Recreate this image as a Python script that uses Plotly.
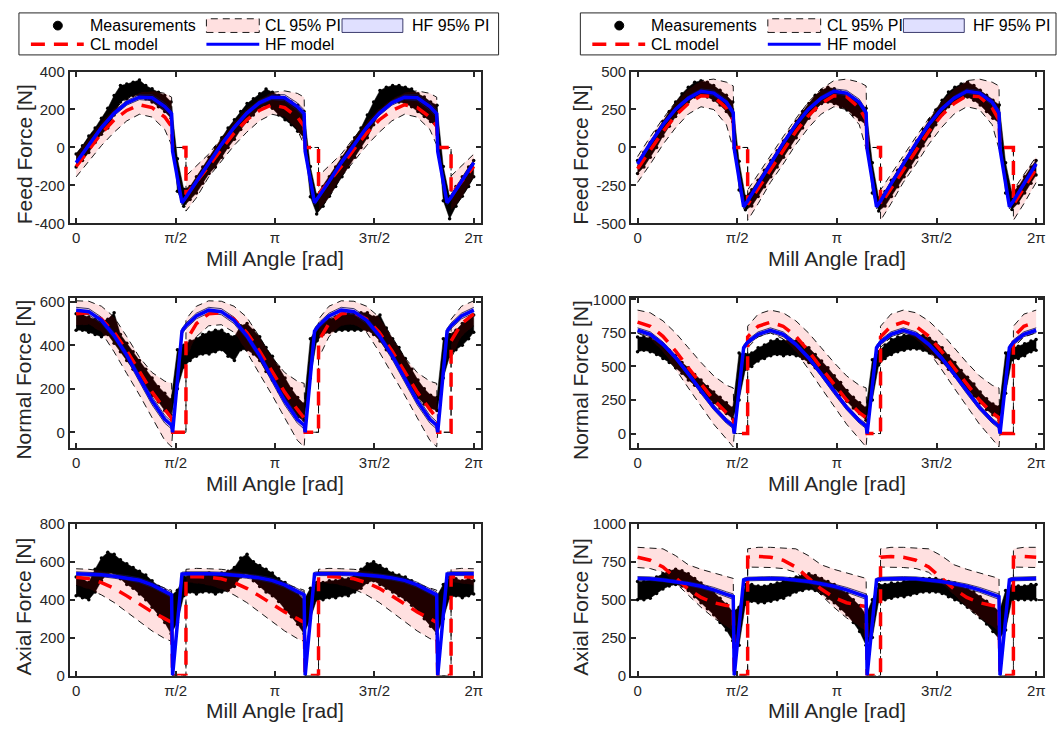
import numpy as np
import plotly.graph_objects as go

W, H = 1060, 735

# ---------------- shared angle data ----------------
# phase (rad) measured from each tooth-exit angle, one tooth pass of the models
phase = [0.016, 0.164, 0.227, 0.227, 0.392, 0.586, 0.786, 0.986, 1.186, 1.386, 1.586, 1.786, 1.986, 2.094]
# tooth-exit angles (rad)
pass_start = [-0.586, 1.508, 3.602, 5.696]

meas_x = [0.0, 0.1, 0.2, 0.3, 0.4, 0.5, 0.6, 0.7, 0.8, 0.9, 1.0, 1.1, 1.2, 1.3, 1.4, 1.5,
          1.6, 1.7, 1.8, 1.9, 2.0, 2.1, 2.2, 2.3, 2.4, 2.5, 2.6, 2.7, 2.8, 2.9, 3.0, 3.1, 3.2, 3.3, 3.4, 3.5, 3.6,
          3.7, 3.8, 3.9, 4.0, 4.1, 4.2, 4.3, 4.4, 4.5, 4.6, 4.7, 4.8, 4.9, 5.0, 5.1, 5.2, 5.3, 5.4, 5.5, 5.6, 5.7,
          5.8, 5.9, 6.0, 6.1, 6.2, 6.28]

x_tick_vals = [0, np.pi / 2, np.pi, 3 * np.pi / 2, 2 * np.pi]
x_tick_text = ["0", "π/2", "π", "3π/2", "2π"]

# ---------------- Feed force, left ----------------
tl_meas_lo = [-103, -69, -26, 26, 69, 103, 171, 240, 257, 274, 274, 257, 240, 214, 189, 154,
              -230, -310, -274, -240, -189, -137, -103, -51, 0, 43, 94, 137, 171, 206, 223, 206, 171, 146, 120, 86, 51,
              -260, -350, -309, -257, -206, -154, -103, -51, 0, 51, 120, 189, 223, 240, 240, 231, 214, 189, 163, 137, 103,
              -280, -375, -309, -257, -206, -154]
tl_meas_hi = [-34, 9, 60, 103, 154, 206, 274, 326, 334, 343, 355, 326, 309, 291, 274, 240,
              -60, -220, -206, -154, -103, -51, 0, 51, 103, 146, 189, 231, 257, 283, 308, 291, 274, 257, 240, 223, 189,
              -100, -250, -206, -154, -103, -51, 0, 51, 103, 171, 240, 300, 317, 326, 326, 317, 308, 283, 266, 240, 223,
              -100, -260, -206, -154, -103, -69]
tl_hf = [-20, -291, -262, -262, -180, -80, 15, 105, 180, 235, 265, 262, 215, 178]
tl_hf_lo = [-20, -303, -274, -274, -192, -92, 3, 93, 168, 223, 252, 246, 195, 158]
tl_hf_hi = [-20, -279, -250, -250, -168, -68, 27, 117, 192, 247, 278, 278, 235, 198]
tl_cl = [0, 0, 0, -248, -180, -100, -10, 75, 145, 195, 225, 210, 160, 110]
tl_cl_lo = [0, 0, 0, -335, -265, -155, -70, 10, 80, 140, 175, 160, 95, 10]
tl_cl_hi = [0, 0, 0, -150, -95, -35, 50, 135, 205, 255, 290, 298, 285, 265]

# ---------------- Feed force, right ----------------
tr_meas_lo = [-172, -129, -64, 0, 75, 139, 204, 258, 300, 333, 343, 333, 311, 279, 236, 170,
              -280, -410, -386, -322, -258, -193, -129, -64, 0, 64, 129, 193, 247, 290, 300, 290, 268, 247, 215, 182, 150,
              -300, -418, -386, -322, -258, -193, -129, -64, 11, 75, 150, 215, 268, 300, 322, 333, 311, 279, 236, 193, 161,
              -300, -408, -365, -300, -236, -182]
tr_meas_hi = [-86, -32, 32, 107, 172, 236, 300, 354, 397, 429, 440, 429, 408, 376, 343, 300,
              -90, -322, -279, -215, -150, -86, -21, 43, 107, 172, 236, 290, 343, 376, 397, 386, 365, 343, 322, 290, 258,
              -100, -333, -290, -215, -150, -86, -21, 43, 118, 182, 247, 311, 365, 397, 418, 429, 408, 376, 343, 311, 279,
              -100, -300, -258, -193, -129, -86]
tr_hf = [-10, -390, -352, -352, -240, -108, 27, 150, 252, 325, 370, 358, 298, 228]
tr_hf_lo = [-10, -404, -366, -366, -254, -122, 13, 136, 238, 311, 354, 340, 278, 208]
tr_hf_hi = [-10, -376, -338, -338, -226, -94, 41, 164, 266, 339, 386, 376, 318, 248]
tr_cl = [0, 0, 0, -375, -270, -140, -15, 105, 210, 290, 340, 335, 260, 180]
tr_cl_lo = [0, 0, 0, -480, -370, -230, -110, 20, 130, 220, 268, 250, 150, -10]
tr_cl_hi = [0, 0, 0, -280, -175, -60, 70, 190, 300, 385, 440, 450, 430, 405]

# ---------------- Normal force, left ----------------
ml_meas_lo = [470, 470, 460, 450, 440, 450, 410, 370, 330, 290, 250, 210, 170, 140, 100, 80,
              200, 300, 330, 350, 360, 360, 370, 380, 350, 330, 380, 380, 360, 330, 280, 240, 190, 150, 110, 70, 55,
              250, 420, 450, 460, 465, 470, 470, 470, 470, 470, 450, 420, 380, 340, 300, 250, 200, 160, 130, 110, 100,
              250, 350, 380, 400, 430, 460]
ml_meas_hi = [545, 540, 530, 520, 510, 520, 550, 450, 410, 370, 330, 290, 250, 210, 180, 150,
              380, 400, 420, 430, 450, 460, 470, 470, 450, 440, 490, 500, 470, 440, 390, 350, 300, 250, 200, 160, 130,
              430, 480, 510, 520, 530, 540, 545, 550, 550, 550, 530, 540, 480, 430, 390, 340, 290, 240, 200, 170, 160,
              430, 450, 470, 500, 520, 540]
ml_hf = [0, 465, 490, 490, 535, 562, 555, 515, 445, 355, 250, 145, 60, 32]
ml_hf_lo = [0, 452, 477, 477, 522, 549, 541, 500, 429, 338, 232, 126, 42, 15]
ml_hf_hi = [0, 478, 503, 503, 548, 575, 569, 530, 461, 372, 268, 164, 78, 49]
ml_cl = [0, 0, 0, 420, 500, 545, 550, 520, 460, 375, 280, 185, 105, 65]
ml_cl_lo = [0, 0, 0, 340, 440, 490, 495, 460, 370, 270, 172, 67, -37, -67]
ml_cl_hi = [0, 0, 0, 520, 580, 605, 603, 580, 530, 440, 345, 275, 235, 225]

# ---------------- Normal force, right ----------------
mr_meas_lo = [610, 620, 610, 590, 560, 530, 490, 450, 400, 360, 310, 270, 230, 190, 150, 110,
              250, 480, 500, 540, 560, 580, 590, 580, 590, 580, 560, 530, 490, 450, 400, 340, 290, 240, 190, 150, 100,
              250, 510, 560, 590, 610, 620, 630, 630, 620, 600, 570, 530, 480, 430, 380, 330, 280, 230, 180, 140, 100,
              300, 550, 560, 580, 610, 620]
mr_meas_hi = [720, 720, 710, 690, 660, 620, 580, 530, 490, 440, 400, 350, 310, 270, 230, 190,
              600, 590, 600, 640, 660, 690, 700, 690, 700, 690, 670, 640, 590, 540, 490, 430, 380, 320, 270, 230, 190,
              550, 610, 660, 700, 720, 730, 740, 740, 730, 710, 680, 640, 580, 530, 470, 420, 370, 310, 260, 220, 200,
              600, 640, 650, 670, 690, 700]
mr_hf = [0, 640, 680, 680, 740, 770, 740, 665, 565, 445, 315, 195, 95, 55]
mr_hf_lo = [0, 622, 662, 662, 722, 752, 722, 647, 547, 427, 297, 177, 77, 37]
mr_hf_hi = [0, 658, 698, 698, 758, 788, 758, 683, 583, 463, 333, 213, 113, 73]
mr_cl = [0, 0, 0, 720, 800, 830, 800, 725, 615, 490, 365, 250, 155, 118]
mr_cl_lo = [0, 0, 0, 640, 720, 750, 705, 610, 480, 340, 200, 70, -40, -100]
mr_cl_hi = [0, 0, 0, 800, 890, 920, 900, 840, 750, 640, 530, 430, 360, 340]

# ---------------- Axial force, left ----------------
bl_meas_lo = [420, 410, 400, 440, 500, 540, 540, 510, 480, 460, 430, 400, 360, 320, 280, 220,
              280, 420, 440, 430, 440, 440, 430, 440, 450, 470, 520, 540, 500, 470, 440, 420, 390, 350, 310, 270, 220,
              300, 400, 400, 410, 410, 420, 420, 440, 460, 490, 500, 480, 460, 440, 420, 400, 370, 340, 300, 260, 220,
              300, 410, 420, 410, 420, 430]
bl_meas_hi = [520, 510, 490, 560, 620, 650, 640, 610, 590, 570, 550, 530, 500, 470, 450, 420,
              450, 520, 530, 520, 530, 540, 530, 540, 550, 570, 620, 640, 600, 580, 560, 540, 510, 490, 460, 430, 400,
              460, 490, 490, 500, 500, 510, 510, 530, 560, 590, 600, 580, 560, 540, 530, 520, 500, 480, 460, 440, 420,
              480, 520, 510, 500, 510, 500]
bl_hf = [0, 535, 537, 537, 538, 537, 535, 531, 524, 515, 502, 478, 445, 425]
bl_hf_lo = [0, 525, 527, 527, 528, 527, 525, 521, 513, 503, 489, 464, 430, 410]
bl_hf_hi = [0, 545, 547, 547, 548, 547, 545, 541, 535, 527, 515, 492, 460, 440]
bl_cl = [0, 0, 0, 520, 522, 518, 510, 490, 460, 420, 375, 335, 300, 280]
bl_cl_lo = [0, 0, 0, 490, 485, 475, 455, 425, 385, 335, 285, 235, 195, 180]
bl_cl_hi = [0, 0, 0, 560, 565, 563, 560, 552, 540, 525, 505, 485, 462, 450]

# ---------------- Axial force, right ----------------
br_meas_lo = [500, 500, 510, 540, 570, 590, 600, 590, 560, 520, 480, 440, 400, 350, 300, 230,
              200, 470, 490, 480, 480, 490, 500, 510, 530, 550, 560, 570, 560, 540, 510, 480, 440, 400, 350, 290, 200,
              250, 490, 500, 510, 520, 520, 530, 540, 550, 550, 550, 540, 520, 500, 480, 450, 420, 380, 340, 290, 240,
              300, 500, 500, 500, 500, 500]
br_meas_hi = [620, 620, 630, 650, 670, 690, 700, 690, 670, 640, 610, 580, 550, 510, 470, 420,
              450, 600, 600, 590, 590, 600, 610, 620, 640, 650, 660, 670, 660, 640, 620, 600, 570, 540, 500, 460, 400,
              500, 600, 600, 610, 610, 620, 630, 630, 640, 640, 640, 630, 620, 610, 590, 570, 550, 520, 490, 460, 420,
              560, 590, 590, 590, 600, 600]
br_hf = [0, 630, 636, 636, 640, 640, 638, 630, 620, 605, 588, 565, 535, 520]
br_hf_lo = [0, 618, 624, 624, 628, 628, 626, 618, 607, 591, 573, 549, 518, 502]
br_hf_hi = [0, 642, 648, 648, 652, 652, 650, 642, 633, 619, 603, 581, 552, 538]
br_cl = [0, 0, 0, 780, 785, 780, 760, 715, 645, 570, 515, 480, 462, 455]
br_cl_lo = [0, 0, 0, 715, 715, 712, 705, 680, 610, 530, 450, 380, 320, 290]
br_cl_hi = [0, 0, 0, 835, 845, 845, 840, 835, 790, 730, 700, 675, 655, 640]

# ---------------- axis settings ----------------
y_titles = ["Feed Force [N]", "Feed Force [N]", "Normal Force [N]", "Normal Force [N]",
            "Axial Force [N]", "Axial Force [N]"]
y_ranges = [[-400, 400], [-500, 500], [-72, 619], [-107, 1012], [0, 800], [0, 1000]]
y_ticks = [[-400, -200, 0, 200, 400], [-500, -250, 0, 250, 500], [0, 200, 400, 600],
           [0, 250, 500, 750, 1000], [0, 200, 400, 600, 800], [0, 250, 500, 750, 1000]]

panels = [
    (tl_meas_lo, tl_meas_hi, tl_hf, tl_hf_lo, tl_hf_hi, tl_cl, tl_cl_lo, tl_cl_hi),
    (tr_meas_lo, tr_meas_hi, tr_hf, tr_hf_lo, tr_hf_hi, tr_cl, tr_cl_lo, tr_cl_hi),
    (ml_meas_lo, ml_meas_hi, ml_hf, ml_hf_lo, ml_hf_hi, ml_cl, ml_cl_lo, ml_cl_hi),
    (mr_meas_lo, mr_meas_hi, mr_hf, mr_hf_lo, mr_hf_hi, mr_cl, mr_cl_lo, mr_cl_hi),
    (bl_meas_lo, bl_meas_hi, bl_hf, bl_hf_lo, bl_hf_hi, bl_cl, bl_cl_lo, bl_cl_hi),
    (br_meas_lo, br_meas_hi, br_hf, br_hf_lo, br_hf_hi, br_cl, br_cl_lo, br_cl_hi),
]

# layout geometry in pixels
col_px = [(70, 482), (633, 1046)]
row_px = [(64, 219.5), (295.6, 449.3), (527, 682.3)]
ytitle_x = [24, 582]

AX = "#262626"
FONT = "Liberation Sans, Arial, sans-serif"
CL_FILL = "rgba(255,0,0,0.12)"
HF_FILL = "rgba(0,0,255,0.12)"


def tooth_passes(vals):
    xs, ys = [], []
    for s in pass_start:
        for p, v in zip(phase, vals):
            x = s + p
            if -1e-6 <= x <= 2 * np.pi + 1e-3:
                xs.append(x)
                ys.append(v)
    return xs, ys


def polygon(xs, lo, hi):
    return list(xs) + list(xs)[::-1], list(lo) + list(hi)[::-1]


fig = go.Figure()
layout = dict(width=W, height=H, margin=dict(l=0, r=0, t=0, b=0),
              paper_bgcolor="white", plot_bgcolor="white", showlegend=False,
              font=dict(family=FONT, color=AX))
annotations = []
shapes = []

for i, data in enumerate(panels):
    k = i + 1
    xr = "x" if k == 1 else f"x{k}"
    yr = "y" if k == 1 else f"y{k}"
    m_lo, m_hi, hf, hf_lo, hf_hi, cl, cl_lo, cl_hi = data
    col = i % 2
    row = i // 2
    c0, c1 = col_px[col]
    r0, r1 = row_px[row]

    # measurements (dense point cloud drawn as filled envelope with edge dots)
    px, py = polygon(meas_x, m_lo, m_hi)
    fig.add_trace(go.Scatter(x=px, y=py, xaxis=xr, yaxis=yr, mode="lines", fill="toself",
                             fillcolor="black", line=dict(color="black", width=0.5), hoverinfo="skip"))
    fig.add_trace(go.Scatter(x=meas_x + meas_x, y=m_lo + m_hi, xaxis=xr, yaxis=yr, mode="markers",
                             marker=dict(color="black", size=3.5), hoverinfo="skip"))

    # CL 95% PI
    xs, lo = tooth_passes(cl_lo)
    _, hi = tooth_passes(cl_hi)
    px, py = polygon(xs, lo, hi)
    fig.add_trace(go.Scatter(x=px, y=py, xaxis=xr, yaxis=yr, mode="lines", fill="toself",
                             fillcolor=CL_FILL, line=dict(width=0), hoverinfo="skip"))
    for yy in (lo, hi):
        fig.add_trace(go.Scatter(x=xs, y=yy, xaxis=xr, yaxis=yr, mode="lines",
                                 line=dict(color="black", width=0.9, dash="7px,5px"), hoverinfo="skip"))

    # HF 95% PI
    xs, lo = tooth_passes(hf_lo)
    _, hi = tooth_passes(hf_hi)
    px, py = polygon(xs, lo, hi)
    fig.add_trace(go.Scatter(x=px, y=py, xaxis=xr, yaxis=yr, mode="lines", fill="toself",
                             fillcolor=HF_FILL, line=dict(width=0), hoverinfo="skip"))
    for yy in (lo, hi):
        fig.add_trace(go.Scatter(x=xs, y=yy, xaxis=xr, yaxis=yr, mode="lines",
                                 line=dict(color="#10104a", width=0.8), hoverinfo="skip"))

    # CL model
    xs, yy = tooth_passes(cl)
    fig.add_trace(go.Scatter(x=xs, y=yy, xaxis=xr, yaxis=yr, mode="lines",
                             line=dict(color="#ff0000", width=3.5, dash="14px,9px"), hoverinfo="skip"))
    # HF model
    xs, yy = tooth_passes(hf)
    fig.add_trace(go.Scatter(x=xs, y=yy, xaxis=xr, yaxis=yr, mode="lines",
                             line=dict(color="#0000ff", width=3.5), hoverinfo="skip"))

    common = dict(ticks="inside", ticklen=5, tickwidth=1.5, tickcolor=AX, showline=True,
                  linecolor=AX, linewidth=2, mirror="ticks", showgrid=False, zeroline=False,
                  tickfont=dict(family=FONT, size=15, color=AX))
    layout["xaxis" if k == 1 else f"xaxis{k}"] = dict(
        domain=[c0 / W, c1 / W], range=[-0.1, 6.39], tickvals=x_tick_vals, ticktext=x_tick_text,
        anchor=yr, **common)
    layout["yaxis" if k == 1 else f"yaxis{k}"] = dict(
        domain=[1 - r1 / H, 1 - r0 / H], range=y_ranges[i], tickvals=y_ticks[i],
        ticktext=[str(v) for v in y_ticks[i]], anchor=xr, **common)

    annotations.append(dict(text="Mill Angle [rad]", x=(c0 + c1) / 2 / W, y=1 - (r1 + 36) / H,
                            xref="paper", yref="paper", showarrow=False, xanchor="center", yanchor="middle",
                            font=dict(family=FONT, size=21, color=AX)))
    annotations.append(dict(text=y_titles[i], x=ytitle_x[col] / W, y=1 - ((r0 + r1) / 2 + 7) / H,
                            xref="paper", yref="paper", showarrow=False, textangle=-90,
                            xanchor="center", yanchor="middle",
                            font=dict(family=FONT, size=21, color=AX)))

# ---------------- legends (one per column) ----------------
def P(xp, yp):
    return xp / W, 1 - yp / H


for dx in (0, 563):
    x0, y0 = P(19 + dx, 4)
    x1, y1 = P(500 + dx if dx == 0 else 1059, 47)
    shapes.append(dict(type="rect", xref="paper", yref="paper", x0=x0, y0=y1, x1=x1, y1=y0,
                       line=dict(color=AX, width=1), fillcolor="white", layer="above"))
    # measurements dot
    cx0, cy0 = P(53.5 + dx, 12.5)
    cx1, cy1 = P(62.5 + dx, 21.5)
    shapes.append(dict(type="circle", xref="paper", yref="paper", x0=cx0, y0=cy1, x1=cx1, y1=cy0,
                       fillcolor="black", line=dict(color="black", width=1), layer="above"))
    # CL PI swatch
    a0, b0 = P(207 + dx, 10)
    a1, b1 = P(260 + dx, 24)
    shapes.append(dict(type="rect", xref="paper", yref="paper", x0=a0, y0=b1, x1=a1, y1=b0,
                       fillcolor=CL_FILL, line=dict(color="black", width=0.9, dash="7px,5px"), layer="above"))
    # HF PI swatch
    a0, b0 = P(343 + dx, 10)
    a1, b1 = P(404 + dx, 24)
    shapes.append(dict(type="rect", xref="paper", yref="paper", x0=a0, y0=b1, x1=a1, y1=b0,
                       fillcolor=HF_FILL, line=dict(color="#10104a", width=0.8), layer="above"))
    # CL model line
    a0, b0 = P(31 + dx, 36)
    a1, _ = P(84 + dx, 36)
    shapes.append(dict(type="line", xref="paper", yref="paper", x0=a0, y0=b0, x1=a1, y1=b0,
                       line=dict(color="#ff0000", width=3.5, dash="14px,9px"), layer="above"))
    # HF model line
    a0, b0 = P(207 + dx, 36)
    a1, _ = P(260 + dx, 36)
    shapes.append(dict(type="line", xref="paper", yref="paper", x0=a0, y0=b0, x1=a1, y1=b0,
                       line=dict(color="#0000ff", width=3), layer="above"))
    for txt, tx, ty in [("Measurements", 88, 17), ("CL 95% PI", 264, 17), ("HF 95% PI", 411, 17),
                        ("CL model", 88, 36), ("HF model", 264, 36)]:
        ax_, ay_ = P(tx + dx, ty)
        annotations.append(dict(text=txt, x=ax_, y=ay_, xref="paper", yref="paper", showarrow=False,
                                xanchor="left", yanchor="middle",
                                font=dict(family=FONT, size=16, color="black")))

layout["annotations"] = annotations
layout["shapes"] = shapes
fig.update_layout(**layout)
fig.write_html("out.html")
